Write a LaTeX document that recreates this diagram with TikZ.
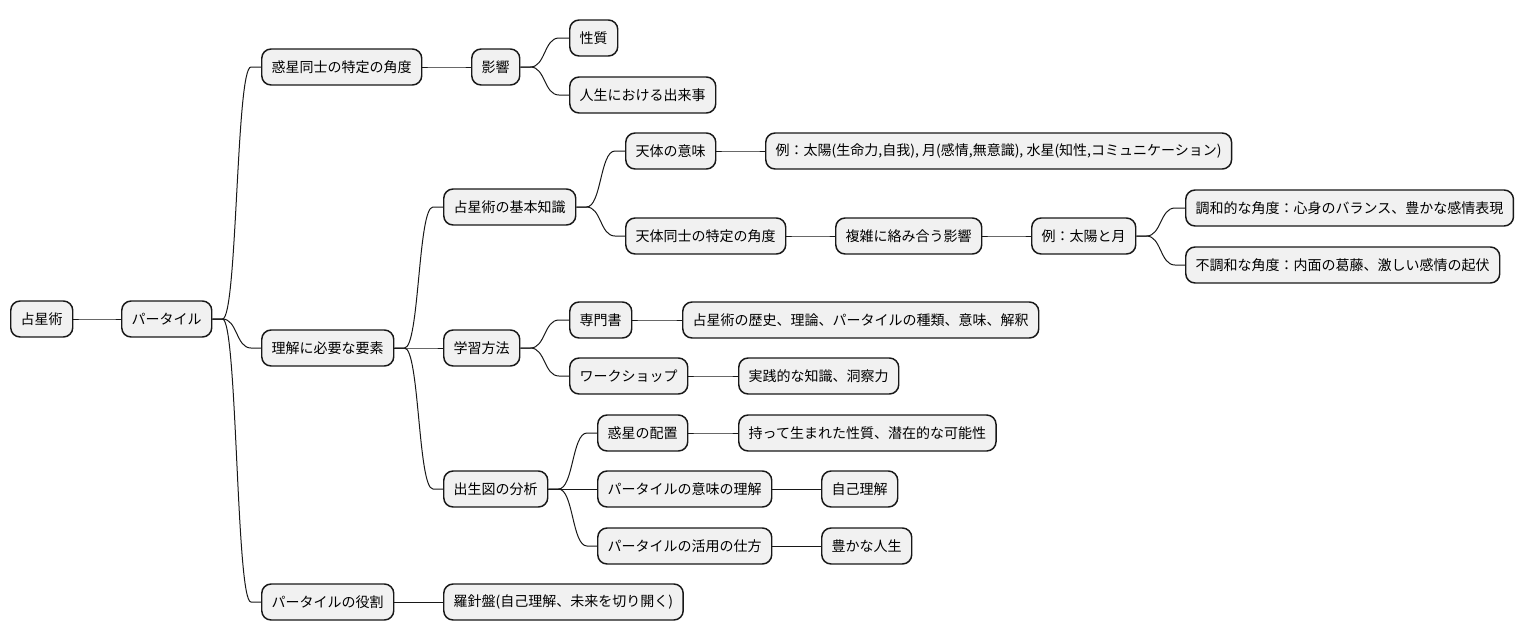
\documentclass[tikz,border=0pt]{standalone}
\usepackage{fontspec}
\usepackage{tikz}
\usepackage{xcolor}
\usetikzlibrary{calc}
\setmainfont{Noto Sans CJK JP}
\definecolor{panel}{HTML}{F1F1F1}
\definecolor{text}{HTML}{181818}
\tikzset{
  topic/.style={draw=text, fill=panel, rounded corners=7pt, line width=1.1pt,
                anchor=west, minimum height=27pt, inner xsep=7.5pt, inner ysep=0pt,
                text=black, font=\fontsize{10.5}{12}\selectfont},
  branch/.style={line width=0.75pt, draw=text,
                 to path={-- ++(10,0) .. controls +(15,0) and +(-15,0) .. ($(\tikztotarget)+(-10,0)$) -- (\tikztotarget)}}
}
\begin{document}
\begin{tikzpicture}[x=0.75pt,y=-0.75pt]
        \useasboundingbox (0,0) rectangle (1524,640);
        \node[topic] (root) at (10,319) {占星術};
        \node[topic] (part) at (121,319) {パータイル};
        \node[topic] (angles) at (261,67) {惑星同士の特定の角度};
        \node[topic] (needs) at (261,348) {理解に必要な要素};
        \node[topic] (role) at (261,602) {パータイルの役割};
        \node[topic] (effect) at (471,67) {影響};
        \node[topic] (nature) at (569,38) {性質};
        \node[topic] (events) at (569,95) {人生における出来事};
        \node[topic] (basics) at (443,207) {占星術の基本知識};
        \node[topic] (bodymean) at (625,151) {天体の意味};
        \node[topic] (bodyex) at (765,151) {例：太陽(生命力,自我), 月(感情,無意識), 水星(知性,コミュニケーション)};
        \node[topic] (bodyangle) at (625,236) {天体同士の特定の角度};
        \node[topic] (complex) at (835,236) {複雑に絡み合う影響};
        \node[topic] (sunmoon) at (1031,236) {例：太陽と月};
        \node[topic] (harmony) at (1185,208) {調和的な角度：心身のバランス、豊かな感情表現};
        \node[topic] (tension) at (1185,265) {不調和な角度：内面の葛藤、激しい感情の起伏};
        \node[topic] (study) at (443,348) {学習方法};
        \node[topic] (books) at (569,320) {専門書};
        \node[topic] (history) at (682,320) {占星術の歴史、理論、パータイルの種類、意味、解釈};
        \node[topic] (workshop) at (569,376) {ワークショップ};
        \node[topic] (insight) at (738,376) {実践的な知識、洞察力};
        \node[topic] (chart) at (443,489) {出生図の分析};
        \node[topic] (placement) at (597,433) {惑星の配置};
        \node[topic] (innate) at (738,433) {持って生まれた性質、潜在的な可能性};
        \node[topic] (meaning) at (597,489) {パータイルの意味の理解};
        \node[topic] (self) at (821,489) {自己理解};
        \node[topic] (usage) at (597,546) {パータイルの活用の仕方};
        \node[topic] (richlife) at (821,546) {豊かな人生};
        \node[topic] (compass) at (443,602) {羅針盤(自己理解、未来を切り開く)};
        \draw[branch] (root.east) to (part.west);
        \draw[branch] (part.east) to (angles.west);
        \draw[branch] (part.east) to (needs.west);
        \draw[branch] (part.east) to (role.west);
        \draw[branch] (angles.east) to (effect.west);
        \draw[branch] (effect.east) to (nature.west);
        \draw[branch] (effect.east) to (events.west);
        \draw[branch] (needs.east) to (basics.west);
        \draw[branch] (needs.east) to (study.west);
        \draw[branch] (needs.east) to (chart.west);
        \draw[branch] (basics.east) to (bodymean.west);
        \draw[branch] (basics.east) to (bodyangle.west);
        \draw[branch] (bodymean.east) to (bodyex.west);
        \draw[branch] (bodyangle.east) to (complex.west);
        \draw[branch] (complex.east) to (sunmoon.west);
        \draw[branch] (sunmoon.east) to (harmony.west);
        \draw[branch] (sunmoon.east) to (tension.west);
        \draw[branch] (study.east) to (books.west);
        \draw[branch] (study.east) to (workshop.west);
        \draw[branch] (books.east) to (history.west);
        \draw[branch] (workshop.east) to (insight.west);
        \draw[branch] (chart.east) to (placement.west);
        \draw[branch] (chart.east) to (meaning.west);
        \draw[branch] (chart.east) to (usage.west);
        \draw[branch] (placement.east) to (innate.west);
        \draw[branch] (meaning.east) to (self.west);
        \draw[branch] (usage.east) to (richlife.west);
        \draw[branch] (role.east) to (compass.west);
      \end{tikzpicture}
\end{document}
